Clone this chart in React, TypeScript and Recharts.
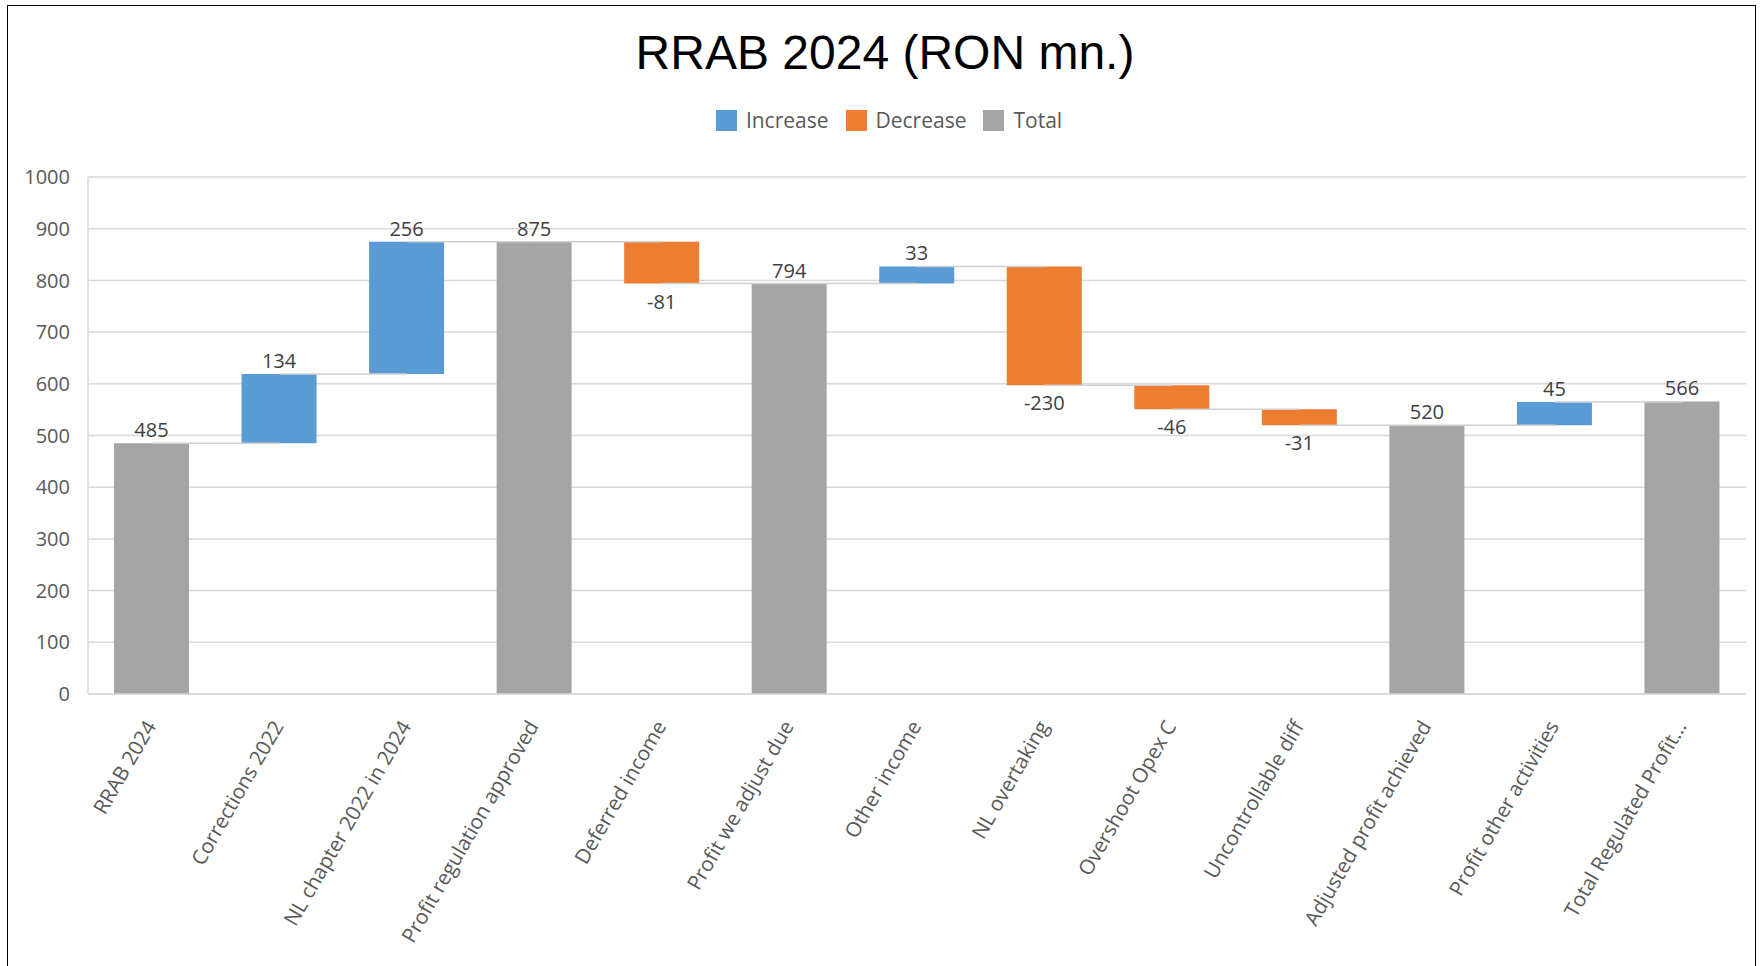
import { Bar, BarChart, CartesianGrid, LabelList, Legend, ReferenceLine, XAxis, YAxis } from "recharts";

const categories = [
  "RRAB 2024",
  "Corrections 2022",
  "NL chapter 2022 in 2024",
  "Profit regulation approved",
  "Deferred income",
  "Profit we adjust due",
  "Other income",
  "NL overtaking",
  "Overshoot Opex C",
  "Uncontrollable diff",
  "Adjusted profit achieved",
  "Profit other activities",
  "Total Regulated Profit...",
];
const values = [485, 134, 256, 875, -81, 794, 33, -230, -46, -31, 520, 45, 566];
const kinds = ["total", "inc", "inc", "total", "dec", "total", "inc", "dec", "dec", "dec", "total", "inc", "total"];
const yTicks = [0, 100, 200, 300, 400, 500, 600, 700, 800, 900, 1000];
const legendOrder = ["Increase", "Decrease", "Total"];

const font = "'Open Sans', sans-serif";

// waterfall: invisible base + one visible span per kind
let running = 0;
const rows = categories.map((name, i) => {
  const v = values[i];
  const k = kinds[i];
  let base = 0;
  let span = 0;
  if (k === "total") {
    span = v;
    running = v;
  } else if (k === "inc") {
    base = running;
    span = v;
    running += v;
  } else {
    base = running + v;
    span = -v;
    running += v;
  }
  return {
    name,
    value: v,
    kind: k,
    base,
    inc: k === "inc" ? span : 0,
    dec: k === "dec" ? span : 0,
    tot: k === "total" ? span : 0,
    level: running,
  };
});

const valueLabel = (below: boolean) => (props: any) => {
  const { x, y, width, height, value } = props;
  if (value === null || value === undefined) return null;
  const cx = Number(x) + Number(width) / 2;
  const ty = below ? Number(y) + Number(height) + 25 : Number(y) - 6;
  return (
    <text x={cx} y={ty} textAnchor="middle" fontSize={20} fontFamily={font} fill="#404040">
      {value}
    </text>
  );
};

const XTick = (props: any) => {
  const { x, y, payload } = props;
  const px = x + 5;
  const py = y + 32;
  return (
    <text
      x={px}
      y={py}
      transform={`rotate(-60, ${px}, ${py})`}
      textAnchor="end"
      fontSize={20.5}
      fontFamily={font}
      fill="#595959"
    >
      {payload.value}
    </text>
  );
};

const LegendBox = (props: any) => {
  const items = (props.payload || [])
    .filter((p: any) => legendOrder.includes(p.value))
    .sort((a: any, b: any) => legendOrder.indexOf(a.value) - legendOrder.indexOf(b.value));
  return (
    <div style={{ display: "flex", justifyContent: "center", alignItems: "center", height: 30, gap: 17 }}>
      {items.map((p: any) => (
        <div key={p.value} style={{ display: "flex", alignItems: "center" }}>
          <span style={{ width: 21, height: 21, background: p.color, display: "inline-block", marginRight: 9 }} />
          <span style={{ fontFamily: font, fontSize: 21, color: "#595959" }}>{p.value}</span>
        </div>
      ))}
    </div>
  );
};

export default function App() {
  return (
    <div style={{ position: "absolute", left: 0, top: 0, width: 1763, height: 966, overflow: "hidden", background: "#fff" }}>
      <div
        style={{
          position: "absolute",
          left: 7,
          top: 5,
          width: 1749,
          height: 1000,
          border: "1.5px solid #000",
          boxSizing: "border-box",
        }}
      />
      <div
        style={{
          position: "absolute",
          left: 0,
          top: 29,
          width: 1770,
          textAlign: "center",
          fontFamily: "'Liberation Sans', Arial, sans-serif",
          fontSize: 48,
          lineHeight: "48px",
          color: "#000",
        }}
      >
        RRAB 2024 (RON mn.)
      </div>
      <BarChart
        width={1763}
        height={966}
        data={rows}
        margin={{ top: 147, right: 17, bottom: 0, left: 0 }}
        barSize={75}
        style={{ position: "absolute", left: 0, top: 0 }}
      >
        <CartesianGrid vertical={false} stroke="#d9d9d9" strokeWidth={1.5} />
        <XAxis
          dataKey="name"
          interval={0}
          height={272}
          tickLine={false}
          tickSize={0}
          tickMargin={0}
          axisLine={{ stroke: "#d9d9d9", strokeWidth: 1.5 }}
          tick={<XTick />}
        />
        <YAxis
          domain={[0, 1000]}
          ticks={yTicks}
          width={88}
          tickLine={false}
          tickSize={0}
          tickMargin={18}
          axisLine={{ stroke: "#d9d9d9", strokeWidth: 1.5 }}
          tick={{ fill: "#595959", fontSize: 20, fontFamily: font }}
        />
        <Legend verticalAlign="top" wrapperStyle={{ top: 105, left: 0, width: 1778, height: 30 }} content={<LegendBox />} />
        {rows.slice(0, -1).map((r, i) => (
          <ReferenceLine
            key={`c-${i}`}
            segment={[
              { x: r.name, y: r.level },
              { x: rows[i + 1].name, y: r.level },
            ]}
            stroke="#d0d0d0"
            strokeWidth={1.5}
            ifOverflow="visible"
          />
        ))}
        <Bar dataKey="base" stackId="w" fill="transparent" legendType="none" isAnimationActive={false} />
        <Bar dataKey="inc" name="Increase" stackId="w" fill="#5B9BD5" isAnimationActive={false}>
          <LabelList dataKey={(r: any) => (r.kind === "inc" ? r.value : null)} content={valueLabel(false)} />
        </Bar>
        <Bar dataKey="dec" name="Decrease" stackId="w" fill="#ED7D31" isAnimationActive={false}>
          <LabelList dataKey={(r: any) => (r.kind === "dec" ? r.value : null)} content={valueLabel(true)} />
        </Bar>
        <Bar dataKey="tot" name="Total" stackId="w" fill="#A5A5A5" isAnimationActive={false}>
          <LabelList dataKey={(r: any) => (r.kind === "total" ? r.value : null)} content={valueLabel(false)} />
        </Bar>
      </BarChart>
    </div>
  );
}
